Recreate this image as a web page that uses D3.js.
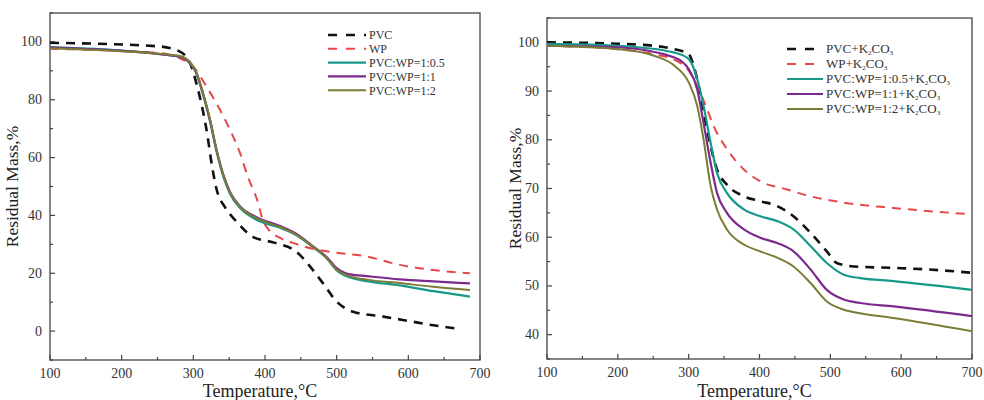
<!DOCTYPE html>
<html>
<head>
<meta charset="utf-8">
<script src="https://cdn.jsdelivr.net/npm/d3@7"></script>
<style>
  body { margin: 0; background: #fff; }
</style>
</head>
<body>
<div id="chart"></div>
<script>
// Data
// left panel (no K2CO3), each series [T, mass]
const pvc = [[100,99.7],[250,98.5],[280,96.8],[295,92.9],[305,85],[313,76.6],[320,67.2],[324,60.3],[332,49.5],[345,42.5],[358,38.5],[383,32.6],[414,30.5],[444,27.4],[463,22.3],[481,16.5],[500,10.2],[523,6.7],[565,5],[598,3.6],[635,2],[667,0.9]]
const wp = [[100,97.6],[250,96.2],[280,94.5],[300,91.4],[318,84.7],[337,76.6],[351,69.7],[365,61.7],[376,53.4],[389,45.4],[397,38.5],[406,34.8],[421,32.2],[440,30.4],[458,29],[491,27.4],[542,25.8],[588,22.9],[635,21.1],[686,20]]
const blend05 = [[100,98.2],[280,95],[302,90.3],[313,82.3],[323,72.8],[333,61.5],[342,53.3],[351,47.6],[365,42.6],[389,38.4],[421,35.7],[444,33.1],[467,29],[486,25.2],[500,21],[519,18.5],[542,17.3],[588,15.8],[635,13.8],[686,11.9]]
const blend1 = [[100,98],[280,95],[302,90.5],[313,82.6],[323,73.3],[333,62],[342,54],[351,48.2],[365,43.2],[389,39.3],[421,36.3],[444,33.6],[467,29.3],[486,25.6],[500,21.8],[519,19.6],[542,19],[588,17.9],[635,17.2],[686,16.5]]
const blend2 = [[100,97.8],[280,95.2],[302,90.7],[313,82.8],[323,73.4],[333,62],[342,53.8],[351,48],[365,43],[389,39],[421,36],[444,33.3],[467,29.2],[486,25.3],[500,21.3],[519,18.9],[542,17.8],[588,16.6],[635,15.3],[686,14.2]]

// right panel (with K2CO3)
const pvcK = [[100,100],[200,99.7],[250,99.3],[280,98.6],[300,97.6],[307,95.2],[314,91.1],[321,85.6],[331,78.7],[340,73.9],[354,70.8],[378,68.4],[401,67.4],[425,66.4],[448,64.3],[472,60.9],[495,57.1],[509,54.7],[533,54],[589,53.7],[636,53.4],[700,52.7]]
const wpK = [[100,99.3],[200,98.6],[250,97.6],[283,96.2],[300,94.2],[312,91.1],[326,86.3],[335,82.9],[354,78.1],[378,73.9],[401,71.5],[439,69.8],[472,68.4],[519,67.1],[589,66],[700,64.7]]
const blend05K = [[100,99.7],[200,99.3],[280,97.9],[300,96.6],[312,92.5],[321,87],[331,79.4],[340,73.2],[354,69.1],[378,65.7],[401,64.3],[425,63.3],[448,61.6],[472,58.2],[495,54.7],[519,52.3],[542,51.6],[589,51],[700,49.2]]
const blend1K = [[100,99.3],[200,99],[280,96.9],[300,94.5],[312,90.4],[321,83.5],[331,75.3],[340,69.1],[354,65],[378,61.6],[401,59.9],[425,58.8],[448,57.1],[472,53.4],[495,49.2],[519,47.2],[542,46.5],[589,45.8],[700,43.8]]
const blend2K = [[100,99.3],[200,98.6],[250,97.3],[280,95.2],[300,91.8],[312,87],[321,80.1],[331,70.5],[340,65.7],[354,61.6],[378,58.5],[401,57.1],[425,55.8],[448,54],[472,50.6],[495,46.8],[519,45.1],[542,44.4],[589,43.4],[700,40.7]]

const leftNames = ['PVC', 'WP', 'PVC:WP=1:0.5', 'PVC:WP=1:1', 'PVC:WP=1:2']
const rightNames = ['PVC+', 'WP+', 'PVC:WP=1:0.5+', 'PVC:WP=1:1+', 'PVC:WP=1:2+']

const colors = ['#111', '#e8474a', '#17998a', '#7d2a8e', '#7c7c36']
const dashes = ['9,7', '9,7', null, null, null]
const widths = [2.6, 2, 2.2, 2.2, 2]

const svg = d3.select('#chart')
  .append('svg')
  .attr('width', 984)
  .attr('height', 400)

const font = '"Liberation Serif", "DejaVu Serif", serif'

function panel(opts) {
  const g = svg.append('g')
  const x = d3.scaleLinear().domain([100, 700]).range([opts.left, opts.right])
  const y = d3.scaleLinear().domain(opts.yDomain).range([opts.bottom, opts.top])

  // frame
  g.append('rect')
    .attr('x', opts.left).attr('y', opts.top)
    .attr('width', opts.right - opts.left).attr('height', opts.bottom - opts.top)
    .attr('fill', 'none').attr('stroke', '#444').attr('stroke-width', 1.3)

  // x ticks (inward)
  const xMinor = d3.range(100, 701, 50)
  g.selectAll('.xt').data(xMinor).join('line')
    .attr('x1', d => x(d)).attr('x2', d => x(d))
    .attr('y1', opts.bottom).attr('y2', d => opts.bottom - (d % 100 === 0 ? 5 : 3))
    .attr('stroke', '#444').attr('stroke-width', 1.2)
  g.selectAll('.xl').data(d3.range(100, 701, 100)).join('text')
    .attr('x', d => x(d)).attr('y', opts.bottom + 18)
    .attr('text-anchor', 'middle').attr('font-family', font).attr('font-size', '14px')
    .attr('fill', '#333')
    .text(d => d)

  // y ticks (inward)
  g.selectAll('.yt').data(opts.yMinor).join('line')
    .attr('x1', opts.left).attr('x2', d => opts.left + (opts.yMajor.includes(d) ? 5 : 3))
    .attr('y1', d => y(d)).attr('y2', d => y(d))
    .attr('stroke', '#444').attr('stroke-width', 1.2)
  g.selectAll('.yl').data(opts.yMajor).join('text')
    .attr('x', opts.left - 8).attr('y', d => y(d) + 4.5)
    .attr('text-anchor', 'end').attr('font-family', font).attr('font-size', '14px')
    .attr('fill', '#333')
    .text(d => d)

  // axis titles
  g.append('text')
    .attr('x', (opts.left + opts.right) / 2 - 5).attr('y', 397)
    .attr('text-anchor', 'middle').attr('font-family', font).attr('font-size', '18px')
    .attr('fill', '#222')
    .text('Temperature,°C')
  g.append('text')
    .attr('transform', `translate(${opts.left - opts.yTitleOff},${(opts.top + opts.bottom) / 2}) rotate(-90)`)
    .attr('text-anchor', 'middle').attr('font-family', font).attr('font-size', '17.5px')
    .attr('fill', '#222')
    .text('Residual Mass,%')

  // curves
  const line = d3.line().x(d => x(d[0])).y(d => y(d[1])).curve(d3.curveMonotoneX)
  opts.series.forEach((s, i) => {
    g.append('path')
      .attr('d', line(s))
      .attr('fill', 'none')
      .attr('stroke', colors[i])
      .attr('stroke-width', widths[i])
      .attr('stroke-dasharray', dashes[i])
  })

  // legend
  opts.names.forEach((n, i) => {
    const ly = opts.legY + i * opts.legStep
    g.append('line')
      .attr('x1', opts.legX).attr('x2', opts.legX + opts.legLen)
      .attr('y1', ly).attr('y2', ly)
      .attr('stroke', colors[i])
      .attr('stroke-width', widths[i])
      .attr('stroke-dasharray', dashes[i] ? '9,9' : null)
    const t = g.append('text')
      .attr('x', opts.legX + opts.legLen + 3).attr('y', ly + 4.3)
      .attr('font-family', font).attr('font-size', opts.legFont)
      .attr('fill', '#333')
    t.append('tspan').text(n)
    if (opts.k2co3) {
      t.append('tspan').text('K')
      t.append('tspan').attr('font-size', '7px').attr('dy', 2).text('2')
      t.append('tspan').attr('dy', -2).text('CO')
      t.append('tspan').attr('font-size', '7px').attr('dy', 2).text('3')
    }
  })
}

panel({
  left: 50, right: 480, top: 13, bottom: 360,
  yDomain: [-10, 110],
  yMajor: [0, 20, 40, 60, 80, 100],
  yMinor: d3.range(-10, 111, 10),
  series: [pvc, wp, blend05, blend1, blend2],
  names: leftNames,
  legX: 328, legLen: 38, legY: 35, legStep: 13.8, legFont: '12px',
  yTitleOff: 32,
  k2co3: false
})

panel({
  left: 547, right: 972, top: 18, bottom: 359,
  yDomain: [35, 105],
  yMajor: [40, 50, 60, 70, 80, 90, 100],
  yMinor: d3.range(35, 106, 5),
  series: [pvcK, wpK, blend05K, blend1K, blend2K],
  names: rightNames,
  legX: 787, legLen: 36, legY: 49, legStep: 15, legFont: '13px',
  yTitleOff: 26,
  k2co3: true
})
</script>
</body>
</html>
